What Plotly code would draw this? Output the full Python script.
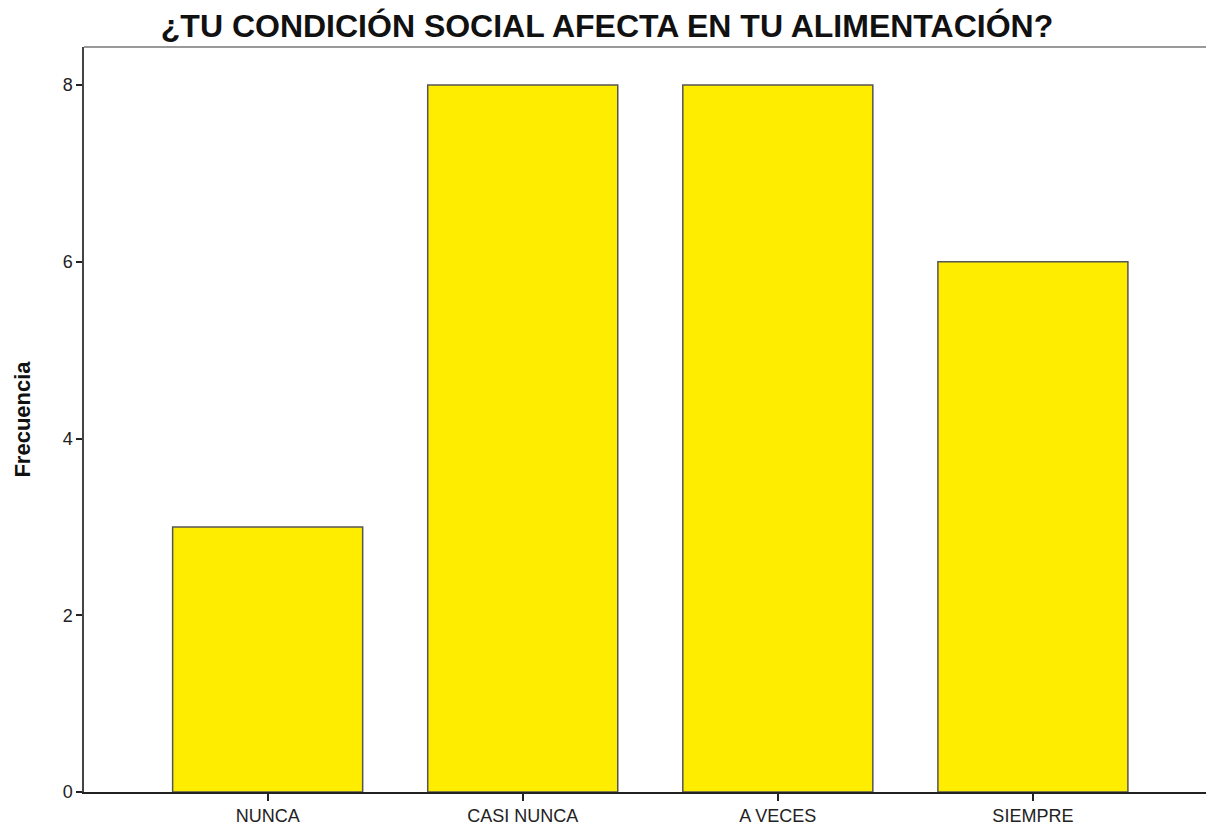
import plotly.graph_objects as go

categories = ["NUNCA", "CASI NUNCA", "A VECES", "SIEMPRE"]
frecuencia = [3, 8, 8, 6]
y_ticks = [0, 2, 4, 6, 8]

fig = go.Figure()
fig.add_trace(go.Bar(
    x=categories,
    y=frecuencia,
    marker=dict(color="#FFED00", line=dict(color="#555555", width=1.5)),
    showlegend=False,
))

fig.update_layout(
    width=1214,
    height=828,
    margin=dict(l=76, r=8, t=39, b=44),
    paper_bgcolor="white",
    plot_bgcolor="white",
    bargap=0.255,
    font=dict(family="Liberation Sans, Arial, sans-serif", size=18, color="#222222"),
    title=dict(
        text="<b>¿TU CONDICIÓN SOCIAL AFECTA EN TU ALIMENTACIÓN?</b>",
        x=0.4934, xanchor="center", xref="container",
        y=0.978, yanchor="middle", yref="container",
        font=dict(size=32, color="#111111"),
    ),
    xaxis=dict(
        range=[-0.72, 3.71],
        showline=True, linecolor="#222222", linewidth=1.5,
        ticks="outside", ticklen=7, tickcolor="#222222", tickwidth=1.5,
        showgrid=False, zeroline=False,
    ),
    yaxis=dict(
        range=[0, 8.43],
        tickvals=y_ticks,
        showline=True, linecolor="#444444", linewidth=1.5,
        ticks="outside", ticklen=6, tickcolor="#222222", tickwidth=1.5,
        showgrid=False, zeroline=False,
        title=dict(text="<b>Frecuencia</b>", font=dict(size=22, color="#111111"), standoff=26),
    ),
    shapes=[dict(type="line", xref="paper", yref="paper", x0=0, x1=1, y0=1, y1=1,
                 line=dict(color="#999999", width=2))],
)

fig.write_html("out.html")
